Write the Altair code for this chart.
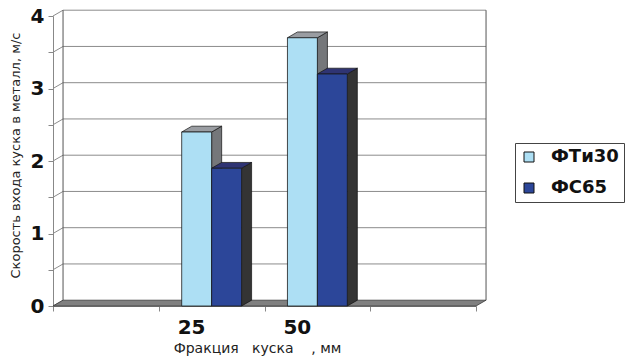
import altair as alt
import pandas as pd

# Category slots along the x axis (the outer two are empty) and the two series
categories = ["", "25", "50", ""]
series_names = ["ФТи30", "ФС65"]
fti30 = [None, 2.4, 3.7, None]
fs65 = [None, 1.9, 3.2, None]
y_ticks = [0, 0.5, 1, 1.5, 2, 2.5, 3, 3.5, 4]

x_title = "Фракция\u00a0\u00a0\u00a0куска\u00a0\u00a0\u00a0\u00a0, мм"
y_title = "Скорость входа куска в металл, м/с"

# face colours of the pseudo-3D columns: front, top, side
front_colors = ["#ADDFF4", "#2C4699"]
top_colors = ["#9A9DA2", "#2F3473"]
side_colors = ["#75777A", "#343434"]

BAR_W = 0.283   # column width in slot units
DX = 0.095      # depth shift along x (slot units)
DY = 0.08       # depth shift along y (value units)
W, H = 423, 290
N = len(categories)

xs = alt.Scale(domain=[0, N], nice=False, zero=False)
ys = alt.Scale(domain=[0, 4], nice=False, zero=False)

# one shared axis definition per channel, repeated on every layer
x_axis = alt.Axis(
    values=list(range(N + 1)), labels=False, grid=False,
    domainColor="#888888", tickColor="#888888", tickSize=5,
    title=x_title, titleFont="DejaVu Sans", titleFontSize=14,
    titleFontWeight="normal", titleColor="#222222",
    titleX=204, titleY=42, titleBaseline="middle",
)
y_axis = alt.Axis(
    values=y_ticks, grid=False,
    labelExpr="datum.value % 1 == 0 ? format(datum.value, 'd') : ''",
    labelFont="DejaVu Sans", labelFontWeight="bold", labelFontSize=20,
    labelColor="#111111", labelPadding=4,
    domainColor="#888888", tickColor="#888888", tickSize=5,
    title=y_title, titleFont="DejaVu Sans", titleFontSize=13,
    titleFontWeight="normal", titleColor="#222222",
    titleX=-38, titleY=139, titleAngle=-90,
    titleAlign="center", titleBaseline="middle",
)


def X(f):
    return alt.X(f, scale=xs, axis=x_axis)


def Y(f):
    return alt.Y(f, scale=ys, axis=y_axis, stack=None)


# ---- column geometry built from the series values ----
front_rows, side_rows, top_rows = [], [], []
for k, (name, vals) in enumerate(zip(series_names, [fti30, fs65])):
    for slot, v in enumerate(vals):
        if v is None:
            continue
        x1 = slot + 0.5 - BAR_W + k * BAR_W
        x2 = x1 + BAR_W
        bid = f"{name}-{slot}"
        front_rows.append({"series": name, "x": x1, "x2": x2, "v": v, "k": k})
        side_rows += [
            {"bar": bid, "k": k, "x": x2, "y": v, "y2": 0},
            {"bar": bid, "k": k, "x": x2 + DX, "y": v + DY, "y2": DY},
        ]
        top_rows += [
            {"bar": bid, "k": k, "y": v, "x": x1, "x2": x2},
            {"bar": bid, "k": k, "y": v + DY, "x": x1 + DX, "x2": x2 + DX},
        ]
front_df = pd.DataFrame(front_rows)
side_df = pd.DataFrame(side_rows)
top_df = pd.DataFrame(top_rows)

GRID = "#8c8c8c"

# back wall gridlines
grid_df = pd.DataFrame({"y": [t + DY for t in y_ticks[1:]], "x": DX, "x2": N + DX})
grid = alt.Chart(grid_df).mark_rule(color=GRID, strokeWidth=1).encode(
    x=X("x:Q"), x2="x2:Q", y=Y("y:Q")
)

# left side wall: short diagonals from the front axis to the back wall
diag_df = pd.DataFrame({"x": 0.0, "x2": DX, "y": y_ticks, "y2": [t + DY for t in y_ticks]})
diag = alt.Chart(diag_df).mark_rule(color=GRID, strokeWidth=1).encode(
    x=X("x:Q"), x2="x2:Q", y=Y("y:Q"), y2="y2:Q"
)

# back wall vertical edges
edge_df = pd.DataFrame({"x": [DX, N + DX], "y": DY, "y2": 4 + DY})
edges = alt.Chart(edge_df).mark_rule(color="#555555", strokeWidth=1).encode(
    x=X("x:Q"), y=Y("y:Q"), y2="y2:Q"
)

# floor slab
floor_df = pd.DataFrame({"y": [0, DY], "x": [0, DX], "x2": [N, N + DX]})
floor = alt.Chart(floor_df).mark_area(
    orient="horizontal", color="#808080", stroke="#3a3a3a", strokeWidth=0.8
).encode(y=Y("y:Q"), x=X("x:Q"), x2="x2:Q")


def faces(k):
    side = alt.Chart(side_df[side_df.k == k]).mark_area(
        orient="vertical", color=side_colors[k], stroke="#111111", strokeWidth=0.7
    ).encode(x=X("x:Q"), y=Y("y:Q"), y2="y2:Q", detail="bar:N")
    top = alt.Chart(top_df[top_df.k == k]).mark_area(
        orient="horizontal", color=top_colors[k], stroke="#111111", strokeWidth=0.7
    ).encode(y=Y("y:Q"), x=X("x:Q"), x2="x2:Q", detail="bar:N")
    return [side, top]


front = alt.Chart(front_df).mark_rect(stroke="#1a1a1a", strokeWidth=0.8).encode(
    x=X("x:Q"),
    x2="x2:Q",
    y=Y("v:Q"),
    y2=alt.datum(0),
    color=alt.Color(
        "series:N",
        scale=alt.Scale(domain=series_names, range=front_colors),
        sort=series_names,
        legend=alt.Legend(
            title=None, orient="none", legendX=462, legendY=127,
            strokeColor="#444444", fillColor="#ffffff", padding=5,
            symbolType="square", symbolSize=100, symbolStrokeColor="#111111",
            symbolStrokeWidth=1, symbolOpacity=1,
            labelFont="DejaVu Sans", labelFontWeight="bold", labelFontSize=18,
            labelColor="#111111", rowPadding=13, labelOffset=13,
        ),
    ),
)

# category labels under the floor
lab_df = pd.DataFrame({"x": [i + 0.5 for i in range(N)], "y": 0, "label": categories})
labels = alt.Chart(lab_df).mark_text(
    font="DejaVu Sans", fontWeight="bold", fontSize=20, color="#111111",
    dx=-20, dy=22, baseline="middle",
).encode(x=X("x:Q"), y=Y("y:Q"), text="label:N")

chart = alt.layer(
    grid, diag, edges, floor, *faces(0), *faces(1), front, labels
).properties(
    width=W, height=H,
    autosize=alt.AutoSizeParams(type="none"),
    padding={"left": 53, "top": 16, "right": 150, "bottom": 56},
    background="white",
).configure_view(stroke=None)

chart.save("out.html", embed_options={"renderer": "svg", "actions": False})
